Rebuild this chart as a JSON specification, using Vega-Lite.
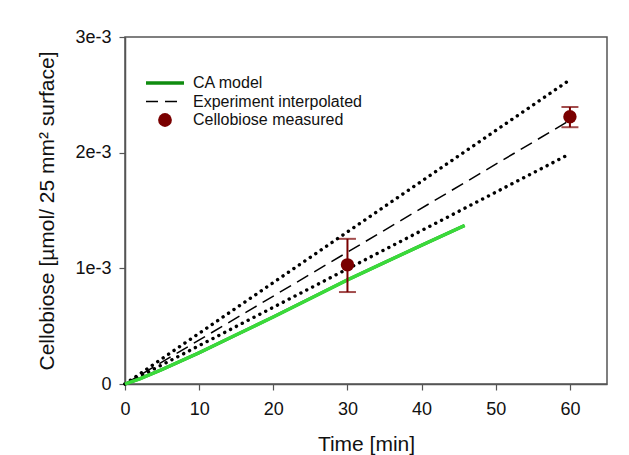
{
  "$schema": "https://vega.github.io/schema/vega-lite/v6.json",
  "width": 482,
  "height": 347,
  "autosize": {"type": "none"},
  "padding": {"left": 125, "top": 37, "right": 22, "bottom": 71},
  "background": "white",
  "config": {
    "font": "Liberation Sans",
    "view": {"stroke": "#555555", "strokeWidth": 1.5},
    "axis": {
      "grid": false,
      "domainColor": "#555555",
      "domainWidth": 1.5,
      "tickColor": "#555555",
      "tickWidth": 1.2,
      "tickSize": 6,
      "labelFontSize": 18,
      "labelFlush": false,
      "labelColor": "#111111",
      "titleFontSize": 21,
      "titleFontWeight": "normal",
      "titleColor": "#111111"
    },
    "legend": {
      "title": null,
      "orient": "none",
      "legendX": 32,
      "legendY": 38,
      "labelFontSize": 16,
      "labelLimit": 400,
      "labelColor": "#111111",
      "labelOffset": 20,
      "rowPadding": 2.5,
      "symbolType": "M -2.5 0 H 2.5",
      "symbolSize": 231
    }
  },
  "datasets": {
    "bounds": [
      {"series": "upper", "time": 0, "value": 0},
      {"series": "upper", "time": 60, "value": 0.00263},
      {"series": "lower", "time": 0, "value": 0},
      {"series": "lower", "time": 60, "value": 0.00199}
    ],
    "interp": [
      {"series": "Experiment interpolated", "time": 0, "value": 0},
      {"series": "Experiment interpolated", "time": 60, "value": 0.00228}
    ],
    "model": [
      {"series": "CA model", "time": 0, "value": 0},
      {"series": "CA model", "time": 2, "value": 0.000045},
      {"series": "CA model", "time": 5, "value": 0.000125},
      {"series": "CA model", "time": 10, "value": 0.00027},
      {"series": "CA model", "time": 15, "value": 0.000425},
      {"series": "CA model", "time": 20, "value": 0.00058},
      {"series": "CA model", "time": 25, "value": 0.00074},
      {"series": "CA model", "time": 30, "value": 0.0009},
      {"series": "CA model", "time": 35, "value": 0.00105},
      {"series": "CA model", "time": 40, "value": 0.0012},
      {"series": "CA model", "time": 45.8, "value": 0.00137}
    ],
    "measured": [
      {"series": "Cellobiose measured", "time": 30, "value": 0.00103, "lo": 0.000795, "hi": 0.001255},
      {"series": "Cellobiose measured", "time": 60, "value": 0.00231, "lo": 0.00222, "hi": 0.002395}
    ]
  },
  "encoding": {
    "x": {
      "field": "time",
      "type": "quantitative",
      "scale": {"domain": [0, 65], "nice": false},
      "axis": {"values": [0, 10, 20, 30, 40, 50, 60], "title": "Time [min]", "labelPadding": 10, "titlePadding": 15}
    },
    "y": {
      "field": "value",
      "type": "quantitative",
      "scale": {"domain": [0, 0.003], "nice": false},
      "axis": {
        "values": [0, 0.001, 0.002, 0.003],
        "labelExpr": "datum.value == 0 ? '0' : format(datum.value * 1000, 'd') + 'e-3'",
        "title": "Cellobiose [µmol/ 25 mm² surface]",
        "labelPadding": 8,
        "titlePadding": 17
      }
    },
    "color": {
      "field": "series",
      "type": "nominal",
      "scale": {
        "domain": ["CA model", "Experiment interpolated", "Cellobiose measured"],
        "range": ["#108c10", "#000000", "#7a0000"]
      },
      "legend": {
        "encode": {
          "symbols": {
            "update": {
              "shape": {"signal": "datum.value === 'Cellobiose measured' ? 'circle' : 'M -2.5 0 H 2.5'"},
              "size": {"signal": "datum.value === 'Cellobiose measured' ? 190 : 231"},
              "strokeDash": {"signal": "datum.value === 'Experiment interpolated' ? [12, 7] : [1, 0]"},
              "fill": {"signal": "datum.value === 'Cellobiose measured' ? '#7a0000' : 'transparent'"},
              "strokeWidth": {"signal": "datum.value === 'CA model' ? 3.5 : (datum.value === 'Cellobiose measured' ? 0 : 1.6)"},
              "opacity": {"value": 1}
            }
          }
        }
      }
    }
  },
  "layer": [
    {
      "data": {"name": "bounds"},
      "mark": {"type": "line", "color": "black", "strokeDash": [0.1, 6.5], "strokeCap": "round", "strokeWidth": 3.4},
      "encoding": {"detail": {"field": "series"}, "color": null}
    },
    {
      "data": {"name": "interp"},
      "mark": {"type": "line", "strokeDash": [13, 7], "strokeWidth": 1.5}
    },
    {
      "data": {"name": "model"},
      "mark": {"type": "line", "strokeWidth": 3.2}
    },
    {
      "data": {"name": "model"},
      "mark": {"type": "line", "strokeWidth": 3.4, "color": "#3ada3a"},
      "encoding": {"color": null}
    },
    {
      "data": {"name": "measured"},
      "mark": {"type": "rule", "color": "#7a0000", "strokeWidth": 2},
      "encoding": {"y": {"field": "lo", "type": "quantitative"}, "y2": {"field": "hi"}, "color": null}
    },
    {
      "data": {"name": "measured"},
      "mark": {"type": "tick", "orient": "horizontal", "color": "#7a0000", "size": 17, "thickness": 2},
      "encoding": {"y": {"field": "lo", "type": "quantitative"}, "color": null}
    },
    {
      "data": {"name": "measured"},
      "mark": {"type": "tick", "orient": "horizontal", "color": "#7a0000", "size": 17, "thickness": 2},
      "encoding": {"y": {"field": "hi", "type": "quantitative"}, "color": null}
    },
    {
      "data": {"name": "measured"},
      "mark": {"type": "point", "filled": true, "opacity": 1, "size": 180}
    }
  ]
}
